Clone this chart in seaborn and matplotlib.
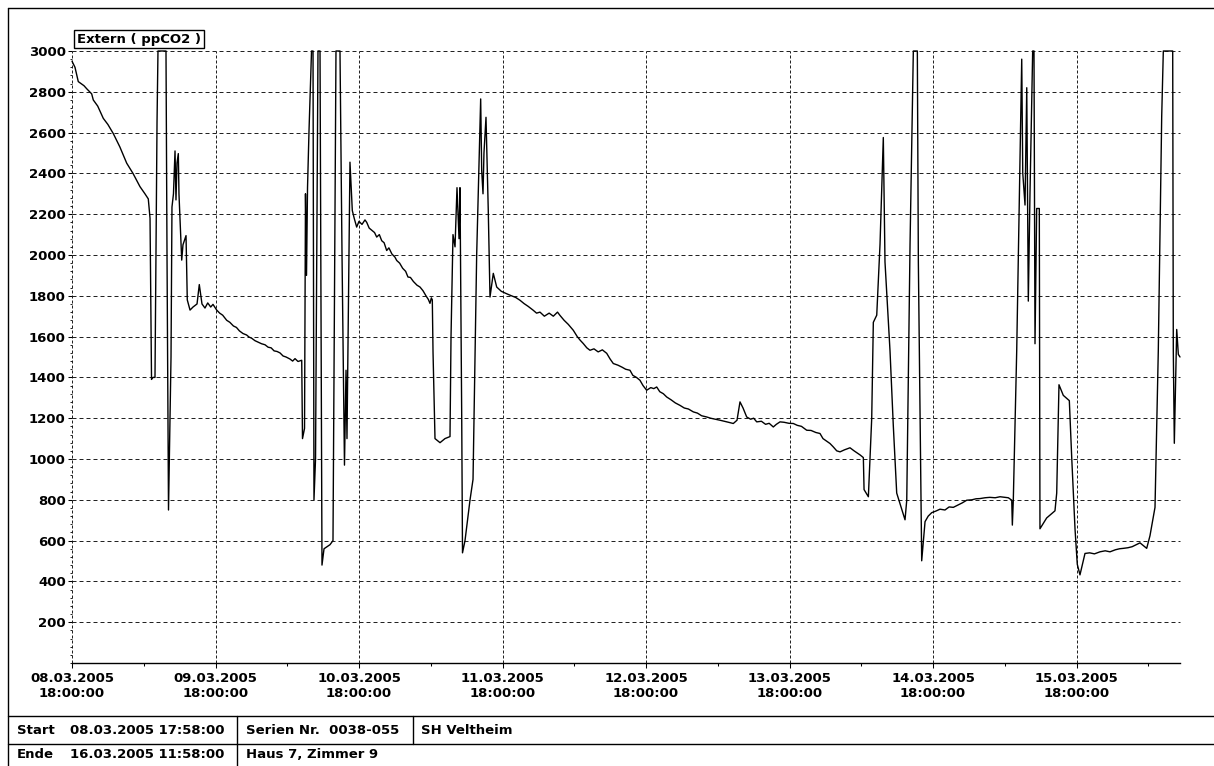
import numpy as np
import pandas as pd
import matplotlib
matplotlib.use("Agg")
import matplotlib.pyplot as plt
import matplotlib.dates as mdates
from matplotlib.lines import Line2D
from matplotlib.ticker import MultipleLocator, FixedLocator
import seaborn as sns

# CO2 logger series, channel "Extern": hours after 08.03.2005 18:00 and ppm
hours = [
    0.0, 0.5, 1.05, 2.0, 2.46, 3.29, 3.56, 4.3, 5.23, 6.0,
    6.91, 8.0, 9.15, 10.2, 11.37, 12.2, 12.76, 13.05, 13.30, 13.55,
    13.88, 14.22, 14.38, 15.72, 15.89, 16.14, 16.56, 16.72, 16.97, 17.23,
    17.39, 17.56, 17.78, 17.89, 18.35, 18.56, 19.07, 19.28, 19.74, 20.24,
    20.91, 21.29, 21.74, 22.24, 22.7, 23.2, 23.58, 24.2, 24.7, 25.2,
    25.87, 26.4, 27.0, 27.5, 28.0, 28.6, 29.2, 29.6, 30.05, 30.6,
    31.2, 31.7, 32.28, 32.8, 33.3, 33.8, 34.3, 34.79, 35.3, 35.8,
    36.46, 36.9, 37.3, 37.8, 38.42, 38.55, 38.89, 39.05, 39.22, 39.39,
    39.64, 40.06, 40.31, 40.47, 40.73, 41.14, 41.48, 41.81, 42.15, 43.15,
    43.65, 44.15, 44.82, 45.16, 45.57, 45.83, 45.99, 46.49, 46.88, 47.2,
    47.61, 48.0, 48.5, 49.0, 49.29, 49.7, 50.2, 50.6, 50.96, 51.4,
    51.8, 52.2, 52.63, 53.0, 53.5, 54.0, 54.31, 54.8, 55.3, 55.8,
    56.19, 56.6, 57.1, 57.7, 58.2, 58.7, 59.2, 59.6, 59.87, 60.1,
    60.26, 60.38, 60.71, 61.55, 62.38, 63.22, 63.39, 63.72, 64.06, 64.39,
    64.73, 64.89, 65.18, 65.31, 65.73, 66.57, 67.07, 67.68, 68.35, 68.52,
    68.74, 68.90, 69.24, 69.62, 69.91, 70.46, 71.03, 71.8, 72.70, 73.5,
    74.2, 74.93, 75.6, 76.3, 77.1, 77.7, 78.27, 79.0, 79.8, 80.5,
    81.2, 81.61, 82.3, 83.0, 83.84, 84.5, 85.0, 85.51, 86.1, 86.63,
    87.3, 88.0, 88.7, 89.43, 90.0, 90.53, 91.3, 92.0, 92.6, 93.32,
    93.8, 94.4, 94.99, 95.5, 96.11, 96.8, 97.3, 97.79, 98.3, 98.9,
    99.46, 100.2, 100.9, 101.68, 102.4, 103.1, 103.91, 104.6, 105.3, 106.15,
    106.8, 107.6, 108.38, 109.1, 109.8, 110.60, 111.22, 111.72, 112.23, 112.84,
    113.5, 114.0, 114.52, 115.3, 116.0, 116.6, 117.29, 117.8, 118.41, 119.1,
    119.9, 120.64, 121.3, 122.0, 122.88, 123.6, 124.4, 125.10, 125.6, 126.1,
    126.77, 127.3, 127.9, 128.45, 129.2, 130.12, 130.8, 131.3, 131.80, 132.35,
    132.47, 133.19, 133.75, 134.02, 134.59, 135.14, 135.69, 135.97, 136.81, 137.36,
    137.93, 139.32, 139.61, 140.16, 140.71, 141.38, 141.55, 142.11, 142.67, 143.2,
    143.79, 144.5, 145.17, 146.0, 146.7, 147.40, 148.2, 148.9, 149.64, 150.5,
    151.2, 151.86, 152.7, 153.5, 154.4, 155.21, 156.0, 156.6, 157.17, 157.27,
    157.43, 158.00, 158.84, 159.01, 159.39, 159.68, 159.94, 160.22, 160.67, 160.89,
    161.06, 161.34, 161.78, 161.89, 163.01, 164.40, 164.69, 165.07, 165.79, 166.80,
    167.20, 167.75, 168.13, 168.58, 169.42, 170.2, 171.0, 171.93, 172.8, 173.6,
    174.5, 175.2, 175.83, 176.6, 177.3, 178.0, 178.62, 179.2, 179.74, 180.29,
    181.13, 181.68, 182.25, 182.52, 184.09, 184.19, 184.36, 184.76, 185.03, 185.31,
]
ppco2 = [
    2950, 2920, 2850, 2830, 2815, 2790, 2760, 2730, 2670, 2640,
    2595, 2530, 2450, 2400, 2335, 2300, 2275, 2180, 1390, 1400,
    1400, 2650, 3000, 3000, 2000, 750, 1500, 2235, 2300, 2510,
    2270, 2450, 2497, 2300, 1975, 2050, 2095, 1780, 1730, 1745,
    1760, 1855, 1760, 1740, 1765, 1745, 1758, 1730, 1715, 1705,
    1680, 1670, 1652, 1645, 1628, 1615, 1608, 1598, 1592, 1580,
    1572, 1565, 1560, 1548, 1545, 1530, 1527, 1520, 1505, 1500,
    1490, 1480, 1492, 1478, 1484, 1100, 1150, 2300, 1900, 2330,
    2610, 3000, 3000, 800, 1000, 3000, 3000, 480, 560, 580,
    600, 3000, 3000, 2000, 970, 1435, 1100, 2455, 2218, 2180,
    2137, 2165, 2150, 2172, 2160, 2132, 2120, 2110, 2088, 2100,
    2070, 2060, 2022, 2035, 2005, 1990, 1973, 1960, 1935, 1920,
    1892, 1890, 1870, 1852, 1843, 1825, 1800, 1782, 1763, 1790,
    1780, 1524, 1100, 1080, 1100, 1110, 1600, 2100, 2040, 2330,
    2080, 2330, 1200, 540, 600, 800, 900, 2000, 2765, 2414,
    2300, 2500, 2675, 2218, 1794, 1910, 1843, 1822, 1810, 1800,
    1792, 1778, 1762, 1748, 1730, 1715, 1720, 1700, 1715, 1700,
    1720, 1704, 1680, 1660, 1631, 1600, 1582, 1566, 1545, 1533,
    1540, 1525, 1535, 1518, 1490, 1468, 1460, 1450, 1440, 1435,
    1410, 1400, 1386, 1360, 1337, 1350, 1345, 1353, 1330, 1320,
    1304, 1290, 1275, 1263, 1250, 1245, 1231, 1225, 1212, 1206,
    1200, 1195, 1190, 1185, 1180, 1174, 1190, 1280, 1250, 1206,
    1195, 1200, 1182, 1185, 1170, 1175, 1157, 1170, 1182, 1180,
    1175, 1174, 1165, 1160, 1141, 1140, 1130, 1125, 1100, 1090,
    1076, 1060, 1040, 1035, 1045, 1055, 1040, 1030, 1020, 1007,
    850, 815, 1199, 1670, 1705, 2053, 2576, 1966, 1530, 1164,
    833, 702, 798, 2053, 3000, 3000, 1966, 501, 693, 720,
    737, 745, 754, 750, 765, 763, 775, 785, 798, 800,
    805, 806, 810, 812, 810, 815, 812, 810, 798, 676,
    798, 1530, 2960, 2402, 2245, 2820, 1774, 2300, 3000, 3000,
    1565, 2228, 2228, 658, 711, 746, 833, 1364, 1312, 1286,
    1007, 658, 484, 432, 537, 540, 535, 545, 550, 545,
    555, 560, 562, 565, 570, 580, 589, 575, 562, 624,
    763, 1530, 2680, 3000, 3000, 1530, 1077, 1635, 1513, 1500,
]
y_ticks = list(range(200, 3001, 200))
channel_label = "Extern ( ppCO2 )"
table_rows = [
    ["Start", "08.03.2005 17:58:00", "Serien Nr.  0038-055", "SH Veltheim"],
    ["Ende", "16.03.2005 11:58:00", "Haus 7, Zimmer 9"],
]

t0 = pd.Timestamp("2005-03-08 18:00:00")
df = pd.DataFrame({
    "Zeit": t0 + pd.to_timedelta(hours, unit="h"),
    "ppCO2": ppco2,
})

sns.set_style("white")
plt.rcParams["font.family"] = ["DejaVu Sans"]
plt.rcParams["font.weight"] = "bold"

W, H = 1214, 766
fig = plt.figure(figsize=(W / 100, H / 100), dpi=100)
fig.patch.set_facecolor("white")


def fx(px):
    return px / W


def fy(py):
    return 1 - py / H


ax = fig.add_axes([fx(72), fy(663), (1180 - 72) / W, (663 - 51) / H])
ax.set_facecolor("white")

sns.lineplot(data=df, x="Zeit", y="ppCO2", ax=ax, color="black",
             linewidth=1.0, estimator=None, sort=False)
for ln in ax.get_lines():
    ln.set_clip_on(False)

ax.set_xlim(df["Zeit"].iloc[0], df["Zeit"].iloc[-1])
ax.set_ylim(0, 3000)
ax.set_xlabel("")
ax.set_ylabel("")

ax.xaxis.set_major_locator(mdates.HourLocator(byhour=[18]))
ax.xaxis.set_minor_locator(mdates.HourLocator(byhour=[6]))
ax.xaxis.set_major_formatter(mdates.DateFormatter("%d.%m.%Y\n%H:%M:%S"))
ax.yaxis.set_major_locator(FixedLocator(y_ticks))
ax.yaxis.set_minor_locator(MultipleLocator(40))

ax.tick_params(axis="x", which="major", length=3.6, width=0.75, color="black",
               direction="out", pad=3, labelsize=9.5, labelcolor="black")
ax.tick_params(axis="x", which="minor", length=2, width=0.75, color="black",
               direction="out")
ax.tick_params(axis="y", which="major", length=3, width=0.75, color="black",
               direction="out", pad=1.5, labelsize=9.5, labelcolor="black")
ax.tick_params(axis="y", which="minor", length=1.2, width=0.6, color="black",
               direction="out")
ax.tick_params(left=True, bottom=True, which="both")

ax.yaxis.grid(True, which="major", linestyle=(0, (4, 3)), color="#222222",
              linewidth=0.72)
ax.xaxis.grid(True, which="major", linestyle=(0, (3, 2)), color="#222222",
              linewidth=0.72)
for gl in ax.get_xgridlines() + ax.get_ygridlines():
    gl.set_clip_on(False)

for side in ("top", "right", "left"):
    ax.spines[side].set_visible(False)
ax.spines["bottom"].set_color("black")
ax.spines["bottom"].set_linewidth(1.0)

# channel caption box
fig.text(fx(77), fy(39), channel_label, ha="left", va="center", fontsize=9.5,
         fontweight="bold", color="black",
         bbox=dict(boxstyle="square,pad=0.2", fc="white", ec="black", lw=1.0))

# frame and info table
frame_lines = [
    ((8, 1214), (8, 8)),
    ((8, 8), (8, 766)),
    ((8, 1214), (716, 716)),
    ((8, 1214), (744, 744)),
    ((237, 237), (716, 766)),
    ((413, 413), (716, 744)),
]
for xs, ys in frame_lines:
    fig.add_artist(Line2D([fx(xs[0]), fx(xs[1])], [fy(ys[0]), fy(ys[1])],
                          transform=fig.transFigure, color="black", lw=1.0))

row_y = [730, 755]
col_x = [[17, 70, 246, 421], [17, 70, 246]]
for texts, xs, yy in zip(table_rows, col_x, row_y):
    for s, xx in zip(texts, xs):
        fig.text(fx(xx), fy(yy), s, ha="left", va="center", fontsize=9.5,
                 fontweight="bold", color="black")

fig.savefig("out.png", dpi=100, facecolor="white")
